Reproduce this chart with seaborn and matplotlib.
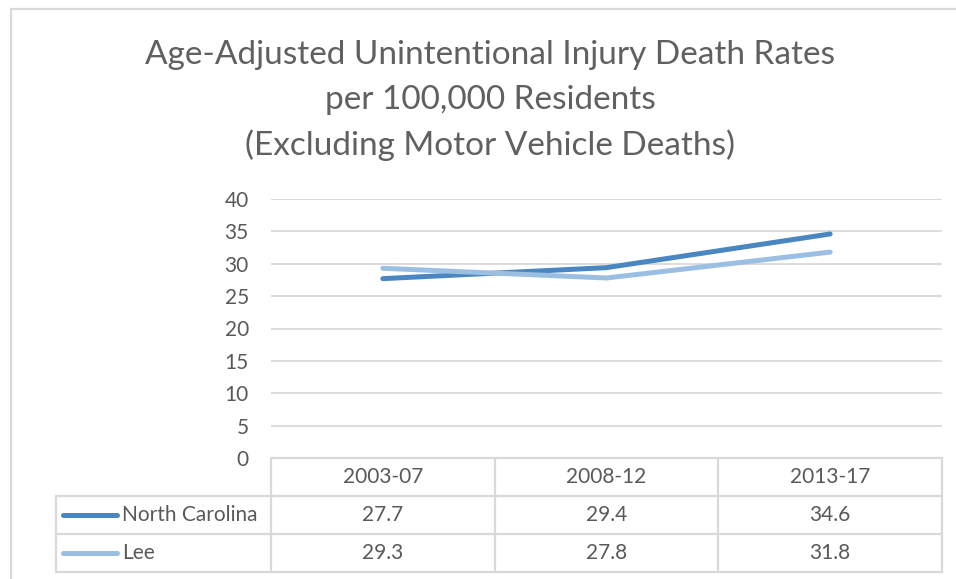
import matplotlib
matplotlib.use("Agg")
import matplotlib.pyplot as plt
import matplotlib.transforms as mtransforms
from matplotlib.lines import Line2D
import pandas as pd
import seaborn as sns

# data
periods = ["2003-07", "2008-12", "2013-17"]
nc_rates = [27.7, 29.4, 34.6]
lee_rates = [29.3, 27.8, 31.8]
series_names = ["North Carolina", "Lee"]
series_colors = ["#4A86C2", "#9BBFE3"]
y_ticks = [0, 5, 10, 15, 20, 25, 30, 35, 40]
title_lines = ["Age-Adjusted Unintentional Injury Death Rates",
               "per 100,000 Residents",
               "(Excluding Motor Vehicle Deaths)"]

df = pd.DataFrame({
    "period": periods * 2,
    "rate": nc_rates + lee_rates,
    "series": [series_names[0]] * len(periods) + [series_names[1]] * len(periods),
})

sns.set_style("white")
plt.rcParams["font.family"] = ["Lato", "DejaVu Sans"]

W, H = 956, 579
TXT = "#595959"
GRID = "#D9D9D9"
FS = 15


def fx(x):
    return x / W


def fy(y):
    return 1 - y / H


fig = plt.figure(figsize=(W / 100, H / 100), dpi=100)
ax = fig.add_axes([fx(271), fy(458), fx(942) - fx(271), fy(199) - fy(458)])

sns.lineplot(data=df, x="period", y="rate", hue="series", sort=False,
             palette=dict(zip(series_names, series_colors)),
             linewidth=3.6, ax=ax, legend=False)

ax.set_xlim(-0.5, len(periods) - 0.5)
ax.set_ylim(0, 40)
ax.set_yticks(y_ticks)
ax.yaxis.grid(True, color=GRID, linewidth=1.3)
ax.set_axisbelow(True)
for s in ax.spines.values():
    s.set_visible(False)
ax.set_xticks([])
ax.set_xlabel("")
ax.set_ylabel("")
ax.tick_params(axis="y", length=0, pad=16, labelsize=FS, labelcolor=TXT)

# title
for i, line in enumerate(title_lines):
    fig.text(fx(490), fy(55 + 45 * i), line, ha="center", va="center",
             fontsize=24, color="#606060")

# data table under the axis
bt = mtransforms.blended_transform_factory(ax.transData, fig.transFigure)
bounds = [i - 0.5 for i in range(len(periods) + 1)]
row_top = [458, 496, 534, 572]
x_right = fx(942)


def hline(x0, x1, y, trans=fig.transFigure):
    fig.add_artist(Line2D([x0, x1], [fy(y), fy(y)], transform=trans,
                          color=GRID, linewidth=1.6))


def vline(x, y0, y1, trans=fig.transFigure):
    fig.add_artist(Line2D([x, x], [fy(y0), fy(y1)], transform=trans,
                          color=GRID, linewidth=1.6))


hline(bounds[0], bounds[-1], row_top[0], bt)
for y in row_top[1:]:
    hline(fx(56), x_right, y)
for b in bounds:
    vline(b, row_top[0], row_top[-1], bt)
vline(fx(56), row_top[1], row_top[-1])

for i, p in enumerate(periods):
    fig.text(i, fy(477), p, transform=bt, ha="center", va="center",
             fontsize=FS, color=TXT)

for r, (name, vals, col) in enumerate(zip(series_names, [nc_rates, lee_rates], series_colors)):
    yc = fy(515 + 38 * r)
    fig.add_artist(Line2D([fx(63), fx(117)], [yc, yc], transform=fig.transFigure,
                          color=col, linewidth=3.6, solid_capstyle="round"))
    fig.text(fx(122), yc, name, ha="left", va="center", fontsize=FS, color=TXT)
    for i, v in enumerate(vals):
        fig.text(i, yc, f"{v:.1f}", transform=bt, ha="center", va="center",
                 fontsize=FS, color=TXT)

# chart frame
fig.add_artist(Line2D([fx(11), fx(11)], [fy(9), 0], transform=fig.transFigure,
                      color=GRID, linewidth=1.6))
fig.add_artist(Line2D([fx(11), 1], [fy(9), fy(9)], transform=fig.transFigure,
                      color=GRID, linewidth=1.6))

fig.savefig("out.png", dpi=100)
